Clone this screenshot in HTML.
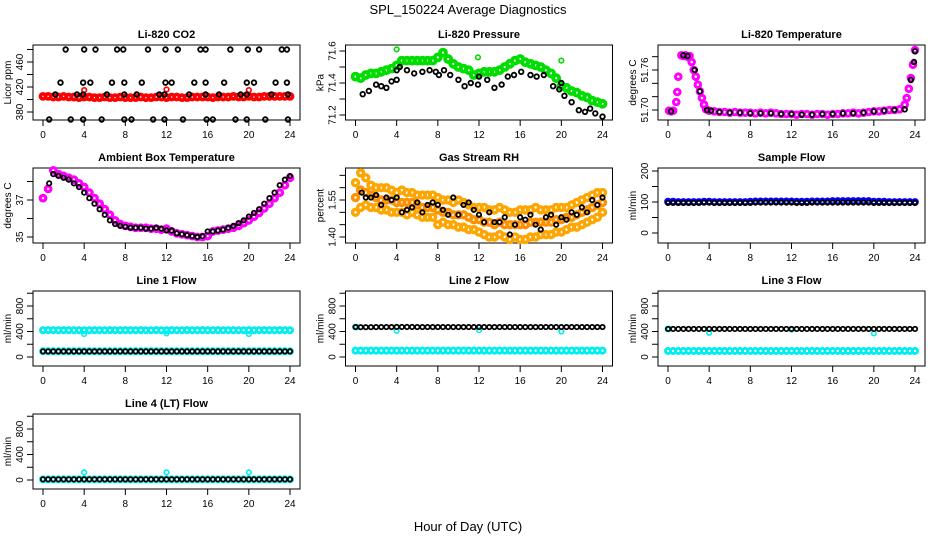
<!DOCTYPE html>
<html><head><meta charset="utf-8"><style>
body{margin:0;background:#fff;}
svg{display:block;font-family:"Liberation Sans",sans-serif;}
</style></head><body>
<svg id="fig" width="936" height="540" viewBox="0 0 936 540">
<rect x="0" y="0" width="936" height="540" fill="#fff"/>
<text x="468" y="14" text-anchor="middle" font-size="13">SPL_150224  Average Diagnostics</text>
<text x="468" y="531" text-anchor="middle" font-size="13">Hour of Day (UTC)</text>
</svg>
<script>
const xTicks = [0,4,8,12,16,20,24];
// CO2
const co2Red = [405,405,404,404,405,404,404,403,404,404,403,403,404,403,403,404,403,403,403,404,403,403,404,404,403,404,404,403,403,404,404,404,404,403,404,404,404,405,404,404,405,404,404,405,405,405,405,405,405];
const co2RedOutHours = [4,12,20];
const co2RedOut = [415,416,415];
const co2BlackHours = [2.2,4.0,5.1,7.2,7.8,10.2,11.9,13.1,15.3,15.8,18.2,19.9,21.0,23.2,23.7, 1.7,3.9,4.6,6.7,7.9,9.6,11.9,12.5,14.7,15.8,17.6,19.8,20.5,22.6,23.7, 0.6,2.7,3.9,5.7,7.9,8.6,10.7,11.8,13.6,15.9,16.5,18.7,19.8,21.6,23.8, 1.2,3.3,3.9,6.2,7.9,9.1,11.3,11.8,14.2,15.8,17.1,19.2,19.8,22.2,23.8];
const co2Black = [480,480,480,480,480,480,480,480,480,480,480,480,480,480,480, 427,427,427,427,427,427,427,427,427,427,427,427,427,427,427, 368,368,368,368,368,368,368,368,368,368,368,368,368,368,368, 408,408,408,408,408,408,408,408,408,408,408,408,408,408,408];
// Pressure
const presGreen = [71.44,71.43,71.45,71.46,71.46,71.47,71.48,71.49,71.51,71.54,71.54,71.54,71.54,71.54,71.54,71.54,71.56,71.59,71.55,71.52,71.50,71.49,71.48,71.45,71.46,71.47,71.47,71.47,71.48,71.50,71.52,71.54,71.55,71.53,71.52,71.51,71.50,71.48,71.46,71.43,71.38,71.37,71.35,71.34,71.32,71.31,71.29,71.28,71.27];
const presGreenOutHours = [4,11.9,20];
const presGreenOut = [71.61,71.56,71.54];
const presBlackHours = [0.7,1.3,2,2.5,3,3.5,4,4,4.3,5,5.7,6.5,7.2,7.8,8.1,8.6,9.2,10,10.6,11.2,11.9,12,12.8,13.5,14.2,14.8,15.4,16.1,17,17.6,18.3,19.2,19.8,20,20.3,21,21.7,22.3,22.8,23.3,24];
const presBlack = [71.33,71.35,71.39,71.38,71.37,71.41,71.42,71.48,71.5,71.48,71.46,71.47,71.48,71.47,71.45,71.48,71.45,71.42,71.38,71.4,71.39,71.44,71.42,71.37,71.39,71.44,71.45,71.47,71.45,71.44,71.45,71.38,71.36,71.4,71.32,71.28,71.23,71.22,71.24,71.21,71.19];
// Li-820 temperature
const tempHours = [0.1,0.3,0.5,0.8,0.9,1.0,1.3,1.5,1.7,1.9,2.1,2.3,2.5,2.7,2.9,3.1,3.3,3.5,3.7,4.0,4.5,5.0,5.5,6.0,6.5,7.0,7.5,8.0,8.5,9.0,9.5,10.0,10.5,11.0,11.5,12.0,12.5,13.0,13.5,14.0,14.5,15.0,15.5,16.0,16.5,17.0,17.5,18.0,18.5,19.0,19.5,20.0,20.5,21.0,21.5,22.0,22.5,23.0,23.2,23.4,23.6,23.8,24.0];
const tempMag = [51.699,51.698,51.699,51.712,51.727,51.750,51.782,51.781,51.782,51.780,51.781,51.772,51.760,51.750,51.738,51.728,51.718,51.708,51.701,51.699,51.698,51.697,51.697,51.696,51.697,51.696,51.696,51.696,51.695,51.696,51.695,51.696,51.695,51.694,51.694,51.694,51.693,51.694,51.694,51.693,51.694,51.694,51.693,51.694,51.694,51.695,51.695,51.696,51.695,51.696,51.697,51.698,51.698,51.699,51.700,51.700,51.701,51.708,51.718,51.732,51.748,51.768,51.790];
const tempBlackHours = [0.3,1.5,1.9,2.6,3.1,3.8,4.2,5,6,7,8,9,10,11,12,13,14,15,16,17,18,19,20,21,22,23,23.6,23.9,24];
const tempBlack = [51.698,51.782,51.781,51.760,51.728,51.700,51.699,51.697,51.696,51.696,51.695,51.695,51.695,51.694,51.694,51.693,51.693,51.694,51.694,51.695,51.695,51.696,51.698,51.699,51.700,51.701,51.745,51.772,51.788];
// Ambient box temperature
const ambMag = [37.1,37.6,38.6,38.4,38.3,38.2,38.1,37.9,37.7,37.4,37.1,36.8,36.5,36.2,35.9,35.7,35.6,35.55,35.5,35.5,35.5,35.45,35.45,35.4,35.45,35.3,35.2,35.15,35.1,35.05,35.0,35.0,35.05,35.3,35.35,35.4,35.45,35.5,35.6,35.75,35.9,36.1,36.3,36.55,36.8,37.1,37.4,37.8,38.2];
const ambBlackHours = [0.6,1.0,1.5,2,2.5,3,3.5,4,4.5,5,5.5,6,6.5,7,7.5,8,8.5,9,9.5,10,10.5,11,11.5,12,12.5,13,13.5,14,14.5,15,15.5,16,16.5,17,17.5,18,18.5,19,19.5,20,20.5,21,21.5,22,22.5,23,23.5,24];
const ambBlack = [37.9,38.4,38.3,38.2,38.1,37.9,37.7,37.4,37.1,36.8,36.5,36.2,35.9,35.7,35.6,35.55,35.5,35.5,35.5,35.45,35.45,35.5,35.45,35.35,35.35,35.2,35.15,35.1,35.05,35.0,35.05,35.3,35.3,35.35,35.4,35.5,35.6,35.75,35.9,36.1,36.3,36.5,36.8,37.1,37.4,37.8,38.1,38.3];
// Gas stream RH
const rhHi = [1.62,1.66,1.64,1.61,1.60,1.60,1.60,1.59,1.58,1.59,1.58,1.58,1.57,1.57,1.57,1.57,1.56,1.55,1.55,1.54,1.55,1.54,1.53,1.52,1.52,1.52,1.51,1.51,1.52,1.51,1.50,1.50,1.51,1.51,1.51,1.52,1.51,1.51,1.51,1.52,1.52,1.52,1.53,1.54,1.55,1.56,1.57,1.58,1.58];
const rhMid = [1.56,1.59,1.58,1.57,1.56,1.55,1.55,1.55,1.54,1.54,1.54,1.54,1.53,1.52,1.52,1.52,1.51,1.50,1.50,1.49,1.49,1.49,1.48,1.47,1.47,1.46,1.46,1.45,1.46,1.45,1.45,1.45,1.45,1.45,1.46,1.46,1.46,1.46,1.46,1.47,1.47,1.48,1.48,1.49,1.50,1.51,1.52,1.53,1.54];
const rhLo = [1.50,1.52,1.53,1.52,1.52,1.51,1.51,1.50,1.50,1.50,1.49,1.50,1.49,1.48,1.48,1.48,1.45,1.46,1.45,1.45,1.44,1.44,1.43,1.43,1.42,1.41,1.40,1.40,1.41,1.40,1.39,1.40,1.39,1.39,1.40,1.40,1.41,1.41,1.41,1.42,1.42,1.43,1.44,1.44,1.45,1.46,1.47,1.48,1.50];
const rhBlack = [1.58,1.56,1.56,1.57,1.53,1.56,1.55,1.56,1.50,1.51,1.52,1.54,1.50,1.53,1.54,1.53,1.51,1.49,1.56,1.49,1.53,1.54,1.51,1.49,1.46,1.50,1.46,1.46,1.48,1.41,1.45,1.48,1.47,1.49,1.45,1.43,1.48,1.49,1.45,1.48,1.47,1.50,1.49,1.52,1.50,1.55,1.53,1.56];
// Flows
const sfBlue = [101,101,100,100,100,100,100,101,101,100,100,100,100,100,100,100,101,102,102,102,102,102,102,102,102,101,101,101,102,102,102,102,103,103,103,103,103,103,103,103,101,101,101,100,100,100,100,100,100];
const sfBlack = [97,97,97,97,97,97,97,98,98,97,97,97,97,97,97,97,97,98,98,98,98,98,98,98,98,97,97,97,98,98,98,98,98,98,98,98,98,98,98,98,97,97,97,97,97,97,97,97,97];
const l1CyanHi = [420,421,420,420,421,420,420,421,420,420,421,420,420,421,420,420,421,420,420,421,420,420,421,420,420,421,420,420,421,420,420,421,420,420,421,420,420,421,420,420,421,420,420,421,420,420,421,420,420];
const l1CyanLo = [90,90,90,90,90,90,90,90,90,90,90,90,90,90,90,90,90,90,90,90,90,90,90,90,90,90,90,90,90,90,90,90,90,90,90,90,90,90,90,90,90,90,90,90,90,90,90,90,90];
const l1Black = [88,88,88,88,88,88,88,88,88,88,88,88,88,88,88,88,88,88,88,88,88,88,88,88,88,88,88,88,88,88,88,88,88,88,88,88,88,88,88,88,88,88,88,88,88,88,88,88,88];
const l2Black = [470,468,468,468,469,470,470,470,471,471,471,471,470,470,470,470,470,470,470,470,470,470,470,470,470,470,470,470,470,470,470,470,470,470,470,470,470,470,470,470,470,470,470,470,470,470,470,470,470];
const l2Cyan = [100,100,100,100,100,100,100,100,100,100,100,100,100,100,100,100,100,100,100,100,100,100,100,100,100,100,100,100,100,100,100,100,100,100,100,100,100,100,100,100,100,100,100,100,100,100,100,100,100];
const l3Black = [440,440,440,440,440,440,440,440,440,440,440,440,440,440,440,440,440,440,440,440,440,440,440,440,440,440,440,440,440,440,440,440,440,440,440,440,440,440,440,440,440,440,440,440,440,440,440,440,440];
const l3Cyan = [95,95,95,95,95,95,95,95,95,95,95,95,95,95,95,95,95,95,95,95,95,95,95,95,95,95,95,95,95,95,95,95,95,95,95,95,95,95,95,95,95,95,95,95,95,95,95,95,95];
const l4Black = [10,10,10,10,10,10,10,10,10,10,10,10,10,10,10,10,10,10,10,10,10,10,10,10,10,10,10,10,10,10,10,10,10,10,10,10,10,10,10,10,10,10,10,10,10,10,10,10,10];
const l4Cyan = [10,10,10,10,10,10,10,10,10,10,10,10,10,10,10,10,10,10,10,10,10,10,10,10,10,10,10,10,10,10,10,10,10,10,10,10,10,10,10,10,10,10,10,10,10,10,10,10,10];
const outHours = [4,12,20];
const l1Out = [360,370,360];
const l2Out = [410,420,400];
const l3Out = [380,430,370];
const l4Out = [120,120,120];
const flowStartHours = [0,0.1];
const l2Start = [470,470];
const l3Start = [440,440];

const NS = "http://www.w3.org/2000/svg";
const fig = document.getElementById('fig');
function mk(tag, attrs, parent){
  const e = document.createElementNS(NS, tag);
  for (const k in attrs) e.setAttribute(k, attrs[k]);
  (parent||fig).appendChild(e);
  return e;
}
function panel(col, row, name, title, ylab, vA, yA, vB, yB, ticks, labels){
  const left = 33 + 312.5*col, right = left + 267, top = 45 + 123*row, bottom = top + 75;
  const g = mk('g', {});
  
  
  const x0 = left + 10, xs = 247/24;
  const sx = h => x0 + h*xs;
  const sy = v => yA + (v - vA)*(yB - yA)/(vB - vA);
  const box = mk('rect', {x:left, y:top, width:right-left, height:bottom-top, fill:'none', stroke:'#000', 'stroke-width':1}, g);
  
  
  const t = mk('text', {x:(left+right)/2, y:top-7, 'text-anchor':'middle', 'font-size':11, 'font-weight':'bold'}, g);
  t.textContent = title;
  
  
  const xa = mk('g', {}, g);
  
  
  mk('line', {x1:sx(xTicks[0]), x2:sx(xTicks[xTicks.length-1]), y1:bottom, y2:bottom, stroke:'#000'}, xa);
  xTicks.forEach(h => {
    mk('line', {x1:sx(h), x2:sx(h), y1:bottom, y2:bottom+6, stroke:'#000'}, xa);
    const l = mk('text', {x:sx(h), y:bottom+18, 'text-anchor':'middle', 'font-size':10}, xa);
    l.textContent = h;
  });
  const ya = mk('g', {}, g);
  
  
  mk('line', {x1:left, x2:left, y1:sy(ticks[0]), y2:sy(ticks[ticks.length-1]), stroke:'#000'}, ya);
  ticks.forEach(v => {
    mk('line', {x1:left-6, x2:left, y1:sy(v), y2:sy(v), stroke:'#000'}, ya);
  });
  labels.forEach(v => {
    const y = sy(v);
    const l = mk('text', {x:left-10, y:y, 'text-anchor':'middle', 'font-size':10, transform:`rotate(-90 ${left-10} ${y})`}, ya);
    l.textContent = v;
  });
  const yt = mk('text', {x:left-22, y:(top+bottom)/2, 'text-anchor':'middle', 'font-size':10, transform:`rotate(-90 ${left-22} ${(top+bottom)/2})`}, ya);
  yt.textContent = ylab;
  
  
  return {g, sx, sy};
}
function pts(p, name, hours, vals, color, r, sw){
  const s = mk('g', {fill:'none', stroke:color, 'stroke-width':sw}, p.g);
  
  
  vals.forEach((v, i) => {
    const h = hours ? hours[i] : i*24/(vals.length-1);
    mk('circle', {cx:p.sx(h), cy:p.sy(v), r:r}, s);
  });
}
const fmt2 = v => v.toFixed(2);

let p = panel(0,0,'co2','Li-820 CO2','Licor ppm',380,112,460,62,[380,400,420,440,460,480],[380,420,460]);
pts(p,'co2-red-series',null,co2Red,'#ff0000',2.6,3.6);
pts(p,'co2-red-outliers',co2RedOutHours,co2RedOut,'#ff0000',2.3,1.6);
pts(p,'co2-black-series',co2BlackHours,co2Black,'#000',2.3,1.8);
p = panel(1,0,'pressure','Li-820 Pressure','kPa',71.2,115,71.6,51,[71.2,71.3,71.4,71.5,71.6],[71.2,71.4,71.6]);
pts(p,'pressure-green-series',null,presGreen,'#00dd00',3,3.8);
pts(p,'pressure-green-outliers',presGreenOutHours,presGreenOut,'#00dd00',2.3,1.6);
pts(p,'pressure-black-series',presBlackHours,presBlack,'#000',2.3,1.8);
p = panel(2,0,'li820-temperature','Li-820 Temperature','degrees C',51.70,110,51.76,70,[51.70,51.72,51.74,51.76,51.78],[51.70,51.76].map(fmt2));
pts(p,'temperature-magenta-series',tempHours,tempMag,'#ff00ff',2.8,3);
pts(p,'temperature-black-series',tempBlackHours,tempBlack,'#000',2.3,1.8);
p = panel(0,1,'ambient-temperature','Ambient Box Temperature','degrees C',35,237,37,200,[35,36,37,38],[35,37]);
pts(p,'ambient-magenta-series',null,ambMag,'#ff00ff',2.8,3.2);
pts(p,'ambient-black-series',ambBlackHours,ambBlack,'#000',2.2,1.8);
p = panel(1,1,'gas-stream-rh','Gas Stream RH','percent',1.40,237,1.55,200,[1.40,1.45,1.50,1.55,1.60,1.65],['1.40','1.55']);
pts(p,'rh-orange-high',null,rhHi,'#ffa500',3,3.4);
pts(p,'rh-orange-mid',null,rhMid,'#ff9000',3,3.4);
pts(p,'rh-orange-low',null,rhLo,'#ffa500',3,3.4);
pts(p,'rh-black-series',ambBlackHours,rhBlack,'#000',2.2,1.8);
p = panel(2,1,'sample-flow','Sample Flow','ml/min',0,233,200,171,[0,50,100,150,200],[0,100,200]);
pts(p,'sample-flow-blue',null,sfBlue,'#0000ff',2.6,2.6);
pts(p,'sample-flow-black',null,sfBlack,'#000',2.2,1.8);
const fT = [0,200,400,600,800,1000], fL = [0,400,800];
p = panel(0,2,'line1-flow','Line 1 Flow','ml/min',0,291+66,800,291+15,fT,fL);
pts(p,'line1-cyan-high',null,l1CyanHi,'#00eeee',2.6,2.8);
pts(p,'line1-cyan-low',null,l1CyanLo,'#00eeee',2.6,2.8);
pts(p,'line1-cyan-outliers',outHours,l1Out,'#00eeee',2.3,1.6);
pts(p,'line1-black',null,l1Black,'#000',2.2,1.8);
p = panel(1,2,'line2-flow','Line 2 Flow','ml/min',0,291+66,800,291+15,fT,fL);
pts(p,'line2-cyan',null,l2Cyan,'#00eeee',2.6,2.8);
pts(p,'line2-cyan-outliers',outHours,l2Out,'#00eeee',2.3,1.6);
pts(p,'line2-cyan-start',flowStartHours,l2Start,'#00eeee',2.3,2);
pts(p,'line2-black',null,l2Black,'#000',2.2,1.8);
p = panel(2,2,'line3-flow','Line 3 Flow','ml/min',0,291+66,800,291+15,fT,fL);
pts(p,'line3-cyan',null,l3Cyan,'#00eeee',2.6,2.8);
pts(p,'line3-cyan-outliers',outHours,l3Out,'#00eeee',2.3,1.6);
pts(p,'line3-cyan-start',flowStartHours,l3Start,'#00eeee',2.3,2);
pts(p,'line3-black',null,l3Black,'#000',2.2,1.8);
p = panel(0,3,'line4-flow','Line 4 (LT) Flow','ml/min',0,414+66,800,414+15,fT,fL);
pts(p,'line4-cyan',null,l4Cyan,'#00eeee',2.6,2.8);
pts(p,'line4-cyan-outliers',outHours,l4Out,'#00eeee',2.3,1.6);
pts(p,'line4-black',null,l4Black,'#000',2.2,1.8);
</script>
</body></html>
